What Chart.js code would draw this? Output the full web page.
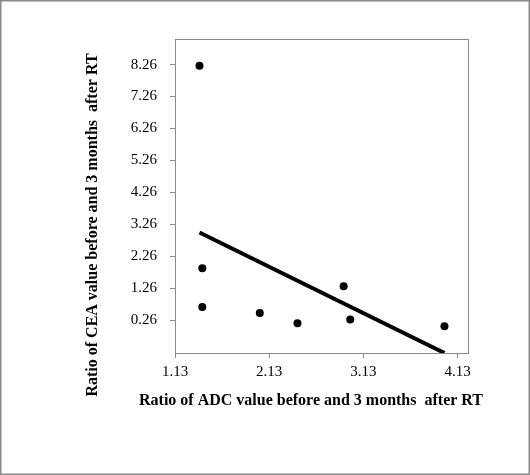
<!DOCTYPE html>
<html>
<head>
<meta charset="utf-8">
<script src="https://cdn.jsdelivr.net/npm/chart.js@4/dist/chart.umd.min.js"></script>
<style>
  html, body { margin: 0; padding: 0; background: #fff; }
  canvas { display: block; }
</style>
</head>
<body>
<canvas id="chart" width="530" height="475"></canvas>
<script>
// ADC ratio (x) vs CEA ratio (y)
const adcRatio = [1.39, 1.42, 1.42, 2.03, 2.43, 2.92, 2.99, 3.99];
const ceaRatio = [8.22, 1.89, 0.68, 0.49, 0.17, 1.33, 0.29, 0.08];

// fitted line end points
const trendX = [1.39, 3.99];
const trendY = [3.01, -0.76];

const xTicks = [1.13, 2.13, 3.13, 4.13];
const yTicks = [0.26, 1.26, 2.26, 3.26, 4.26, 5.26, 6.26, 7.26, 8.26];

const xTitle = 'Ratio of ADC value before and 3 months  after RT';
const yTitle = 'Ratio of CEA value before and 3 months  after RT';

const GREY = '#898989';
const FONT = "'Liberation Serif', 'Times New Roman', serif";

// frame, plot box and axis titles
const framePlugin = {
    id: 'frame',
    beforeDraw(chart) {
        const ctx = chart.ctx;
        ctx.save();
        ctx.fillStyle = '#fff';
        ctx.fillRect(0, 0, chart.width, chart.height);
        ctx.strokeStyle = GREY;
        ctx.lineWidth = 1.5;
        ctx.strokeRect(0.75, 0.75, chart.width - 1.5, chart.height - 1.5);
        ctx.restore();
    },
    beforeDatasetsDraw(chart) {
        const { ctx, chartArea: a } = chart;
        ctx.save();
        ctx.strokeStyle = GREY;
        ctx.lineWidth = 1;
        ctx.strokeRect(Math.round(a.left) + 0.5, Math.round(a.top) + 0.5,
            Math.round(a.right - a.left), Math.round(a.bottom - a.top));

        ctx.fillStyle = '#000';
        ctx.font = "bold 16px " + FONT;
        ctx.textAlign = 'center';
        ctx.textBaseline = 'middle';
        ctx.fillText(xTitle, 311, 401);

        ctx.translate(93, 225);
        ctx.rotate(-Math.PI / 2);
        ctx.fillText(yTitle, 0, 0);
        ctx.restore();
    }
};

new Chart(document.getElementById('chart'), {
    type: 'scatter',
    data: {
        datasets: [
            {
                label: 'patients',
                data: adcRatio.map((x, i) => ({ x: x, y: ceaRatio[i] })),
                backgroundColor: '#000',
                borderWidth: 0,
                pointRadius: 4,
                pointHoverRadius: 4
            },
            {
                label: 'trend',
                data: trendX.map((x, i) => ({ x: x, y: trendY[i] })),
                showLine: true,
                borderColor: '#000',
                borderWidth: 4,
                pointRadius: 0
            }
        ]
    },
    options: {
        responsive: false,
        animation: false,
        devicePixelRatio: 1,
        layout: { padding: { left: 0, top: 39, right: 62, bottom: 82 } },
        plugins: {
            legend: { display: false },
            tooltip: { enabled: false }
        },
        scales: {
            x: {
                type: 'linear',
                min: 1.13,
                max: 4.24,
                afterBuildTicks: s => { s.ticks = xTicks.map(v => ({ value: v })); },
                afterFit: s => { s.height = 40; },
                border: { display: false },
                grid: { drawOnChartArea: false, drawTicks: true, tickLength: 5, tickColor: GREY },
                ticks: {
                    color: '#000',
                    padding: 5,
                    maxRotation: 0,
                    font: { family: FONT, size: 15 },
                    callback: v => v.toFixed(2)
                }
            },
            y: {
                type: 'linear',
                min: -0.76,
                max: 9.06,
                afterBuildTicks: s => { s.ticks = yTicks.map(v => ({ value: v })); },
                afterFit: s => { s.width = 175; },
                border: { display: false },
                grid: { drawOnChartArea: false, drawTicks: true, tickLength: 5, tickColor: GREY },
                ticks: {
                    color: '#000',
                    padding: 13,
                    font: { family: FONT, size: 15 },
                    callback: v => v.toFixed(2)
                }
            }
        }
    },
    plugins: [framePlugin]
});
</script>
</body>
</html>
